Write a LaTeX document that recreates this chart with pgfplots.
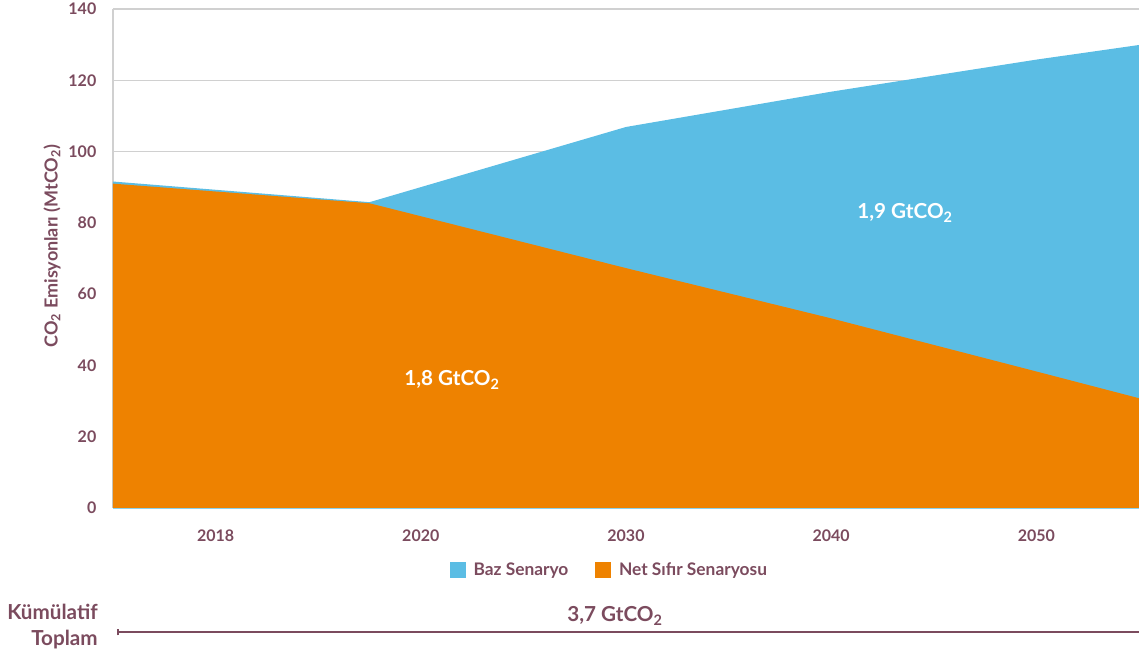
\documentclass[border=0pt]{standalone}
\usepackage{fontspec}
\setmainfont{Lato}
\usepackage{pgfplots}
\pgfplotsset{compat=1.18}
\definecolor{baz}{RGB}{91,189,228}
\definecolor{net}{RGB}{238,130,0}
\definecolor{plum}{RGB}{123,75,94}
\definecolor{gridgray}{RGB}{208,208,208}
\begin{document}
\begin{tikzpicture}[font=\fontsize{11.5}{14}\selectfont]
\begin{axis}[
  at={(0,0)}, anchor=south west,
  scale only axis, width=769.5pt, height=374.25pt,
  xmin=-0.5, xmax=4.5, ymin=0, ymax=140,
  xtick={0,1,2,3,4}, xticklabels={2018,2020,2030,2040,2050},
  ytick={0,20,...,140},
  axis x line*=bottom, axis y line*=left,
  x axis line style={draw=baz!70, line width=1pt, -},
  y axis line style={draw=gridgray, line width=0.8pt, -},
  major tick length=0pt,
  ymajorgrids, grid style={gridgray, line width=0.8pt},
  /pgf/number format/assume math mode=true,
  ticklabel style={font=\fontsize{12}{14}\selectfont\bfseries, text=plum},
  xticklabel style={yshift=-13pt},
  yticklabel style={xshift=-9pt},
  ylabel={CO\textsubscript{2} Emisyonları (MtCO\textsubscript{2})},
  ylabel style={at={(axis description cs:-0.0595,0.525)}, anchor=center, text=plum, font=\fontsize{13.5}{16}\selectfont\bfseries},
  legend style={at={(0.484,-0.124)}, anchor=center, draw=none, fill=none,
    font=\fontsize{13}{15}\selectfont\bfseries, text=plum,
    /tikz/every odd column/.append style={column sep=4pt},
    /tikz/every even column/.append style={column sep=18pt}},
  legend columns=2,
  legend image code/.code={\fill[#1] (0pt,-6pt) rectangle (12pt,6pt);},
]
\addplot[fill=baz, draw=none] coordinates {(-0.5,91.6) (0.75,85.8) (2,106.9) (3,116.8) (4,125.8) (4.5,129.9)} \closedcycle;
\addlegendentry{Baz Senaryo}
\addplot[fill=net, draw=none] coordinates {(-0.5,91.0) (0.75,85.5) (2,67.3) (3,53.2) (4,38.3) (4.5,30.8)} \closedcycle;
\addlegendentry{Net Sıfır Senaryosu}
\node[text=white, font=\fontsize{15.5}{18}\selectfont\bfseries] at (axis cs:1.152,35.9) {1,8 GtCO\textsubscript{2}};
\node[text=white, font=\fontsize{15.5}{18}\selectfont\bfseries] at (axis cs:3.36,82.8) {1,9 GtCO\textsubscript{2}};
\end{axis}
\node[anchor=east, align=right, text=plum, font=\fontsize{15.5}{19.5}\selectfont\bfseries, inner sep=0pt] at (-11.25pt,-89.25pt) {Kümülatif\\Toplam};
\draw[plum, line width=1pt] (3.75pt,-93pt) -- (769.5pt,-93pt);
\draw[plum, line width=0.8pt] (3.75pt,-95.5pt) -- (3.75pt,-90.5pt);
\node[text=plum, font=\fontsize{15.5}{18}\selectfont\bfseries] at (376.5pt,-81pt) {3,7 GtCO\textsubscript{2}};
\pgfresetboundingbox
\path (-84.75pt,-108.75pt) rectangle (769.5pt,381pt);
\end{tikzpicture}
\end{document}
